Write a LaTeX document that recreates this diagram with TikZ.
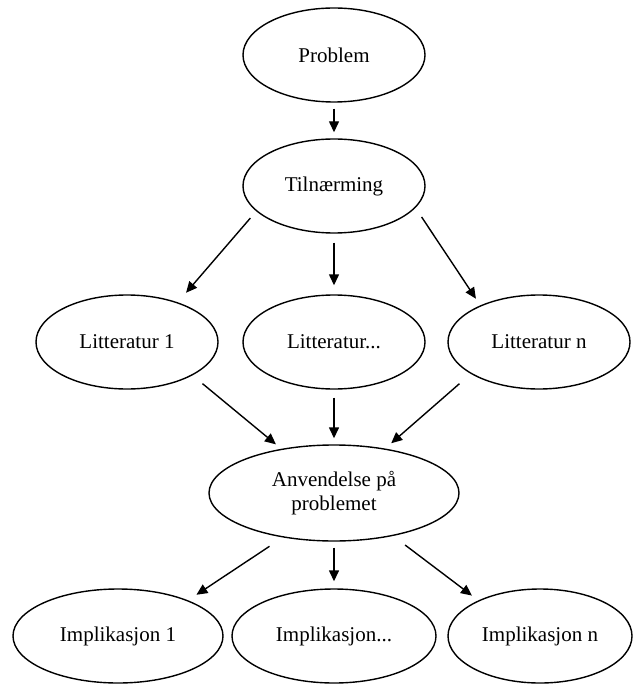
\documentclass[tikz,border=0pt]{standalone}
\usepackage{fontspec}
\setmainfont{Liberation Serif}
\usetikzlibrary{shapes.geometric,arrows.meta}
\begin{document}
\begin{tikzpicture}[x=1pt,y=-1pt,
  oval/.style={draw, ellipse, line width=1.4pt, inner sep=0pt,
    minimum width=182pt, minimum height=94pt,
    font=\fontsize{21}{24}\selectfont, align=center},
  flow/.style={-{Triangle[length=11pt,width=10pt]}, line width=1.4pt}]
\useasboundingbox (0,0) rectangle (642,684);

% ovals
\node[oval] (problem) at (334,55) {Problem};
\node[oval] (tiln) at (334,186) {Tilnærming};
\node[oval] (lit1) at (127,342) {Litteratur 1};
\node[oval] (litm) at (334,342) {Litteratur...};
\node[oval] (litn) at (539,342) {Litteratur n};
\node[oval, minimum width=250pt, minimum height=96pt] (anv) at (334,493) {Anvendelse på\\problemet};
\node[oval, minimum width=210pt] (imp1) at (118,636) {Implikasjon 1};
\node[oval, minimum width=204pt] (impm) at (334,636) {Implikasjon...};
\node[oval, minimum width=184pt] (impn) at (540,636) {Implikasjon n};

% arrows
\draw[flow, shorten <=6pt, shorten >=6pt] (problem.south) -- (tiln.north);
\draw[flow, shorten <=9pt, shorten >=12.6pt] (tiln.198) -- (lit1.38);
\draw[flow, shorten <=9pt, shorten >=9pt] (tiln.south) -- (litm.north);
\draw[flow, shorten <=11pt, shorten >=8pt] (tiln.345) -- (litn.148);
\draw[flow, shorten <=13pt, shorten >=7pt] (lit1.333) -- (anv.140);
\draw[flow, shorten <=8pt, shorten >=6pt] (litm.south) -- (anv.north);
\draw[flow, shorten <=15pt, shorten >=8pt] (litn.205) -- (anv.41);
\draw[flow, shorten <=16pt, shorten >=10pt] (anv.221) -- (imp1.27);
\draw[flow, shorten <=6pt, shorten >=7pt] (anv.south) -- (impm.north);
\draw[flow, shorten <=15pt, shorten >=8pt] (anv.324) -- (impn.150);
\end{tikzpicture}
\end{document}
